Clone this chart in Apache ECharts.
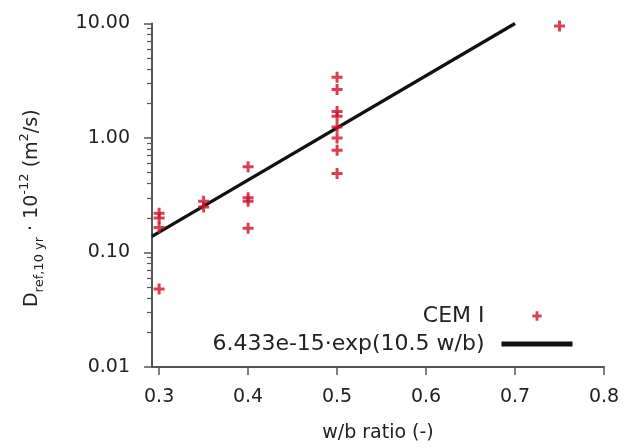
<!DOCTYPE html>
<html>
<head>
<meta charset="utf-8">
<script src="https://cdn.jsdelivr.net/npm/echarts@6/dist/echarts.min.js"></script>
<style>
  html, body { margin: 0; padding: 0; background: #fff; }
  #chart { width: 627px; height: 448px; }
</style>
</head>
<body>
<div id="chart"></div>
<script>
// measured points (w/b ratio vs D_ref,10yr in 1e-12 m2/s)
const wbRatio = [0.3, 0.3, 0.3, 0.3, 0.35, 0.35, 0.4, 0.4, 0.4, 0.4,
  0.5, 0.5, 0.5, 0.5, 0.5, 0.5, 0.5, 0.5, 0.75];
const dRef = [0.22, 0.20, 0.165, 0.048, 0.28, 0.25, 0.56, 0.30, 0.28, 0.163,
  3.4, 2.65, 1.7, 1.55, 1.25, 1.0, 0.78, 0.49, 9.5];
// fitted line end points
const fitX = [0.292, 0.7];
const fitY = [0.138, 10.0];
const xTicks = [0.3, 0.4, 0.5, 0.6, 0.7, 0.8];
const yMajor = [0.01, 0.1, 1, 10];
const yMinor = [0.02, 0.03, 0.04, 0.05, 0.06, 0.07, 0.08, 0.09,
  0.2, 0.3, 0.4, 0.5, 0.6, 0.7, 0.8, 0.9,
  2, 3, 4, 5, 6, 7, 8, 9];

const font = "DejaVu Sans";
const txt = "#222";
const axisCol = "#555";
const red = "#cf1228";
const plus = "path://M4,0H7V4H11V7H7V11H4V7H0V4H4Z";
// same plus, padded so the legend draws it smaller
const plusIcon = "path://M0,0L0,0M15,15L15,15M6,2.5H9V6H12.5V9H9V12.5H6V9H2.5V6H6Z";

const chart = echarts.init(document.getElementById("chart"));

const option = {
  animation: false,
  textStyle: { fontFamily: font },
  grid: { left: 152, right: 23, top: 23.5, bottom: 79 },
  legend: {
    orient: "vertical",
    right: 47,
    top: 300,
    align: "right",
    itemWidth: 71,
    itemHeight: 14,
    itemGap: 6,
    textStyle: {
      fontFamily: font,
      fontSize: 22,
      color: txt,
      padding: [0, 12, 0, 0],
    },
    data: [
      { name: "CEM I", icon: plusIcon },
      { name: "6.433e-15·exp(10.5 w/b)", itemStyle: { opacity: 0 }, lineStyle: { width: 5 } },
    ],
  },
  xAxis: {
    type: "value",
    min: 0.292,
    max: 0.8,
    name: "w/b ratio (-)",
    nameLocation: "middle",
    nameGap: 57,
    nameTextStyle: { fontFamily: font, fontSize: 19, color: txt },
    splitLine: { show: false },
    axisLine: { lineStyle: { color: axisCol, width: 2 } },
    axisTick: { customValues: xTicks, length: 8, lineStyle: { color: axisCol, width: 1.5 } },
    axisLabel: {
      customValues: xTicks,
      margin: 21,
      fontSize: 19,
      color: txt,
      formatter: (v) => v.toFixed(1),
    },
  },
  yAxis: [
    {
      type: "log",
      logBase: 10,
      min: 0.01,
      max: 10,
      name: "{n|D}{sub|ref,10 yr}{n| · 10}{sup|-12}{n| (m}{sup|2}{n|/s)}",
      nameLocation: "middle",
      nameGap: 106,
      nameRotate: 90,
      nameTextStyle: {
        padding: [0, 26, 0, 0],
        rich: {
          n: { fontFamily: font, fontSize: 19, color: txt, lineHeight: 28, verticalAlign: "middle" },
          sub: { fontFamily: font, fontSize: 13, color: txt, lineHeight: 28, verticalAlign: "bottom" },
          sup: { fontFamily: font, fontSize: 13, color: txt, lineHeight: 28, verticalAlign: "top" },
        },
      },
      splitLine: { show: false },
      axisLine: { show: true, lineStyle: { color: axisCol, width: 2 } },
      axisTick: { customValues: yMajor, length: 8, lineStyle: { color: axisCol, width: 1.5 } },
      axisLabel: {
        customValues: yMajor,
        margin: 22,
        fontSize: 19,
        color: txt,
        formatter: (v) => Number(v).toFixed(2),
      },
    },
    {
      type: "log",
      logBase: 10,
      min: 0.01,
      max: 10,
      position: "left",
      splitLine: { show: false },
      axisLine: { show: false },
      axisLabel: { show: false },
      axisTick: { show: true, customValues: yMinor, length: 5, lineStyle: { color: axisCol, width: 1.2 } },
    },
  ],
  series: [
    {
      name: "CEM I",
      type: "scatter",
      symbol: plus,
      symbolSize: 11,
      itemStyle: { color: red },
      data: wbRatio.map((x, i) => [x, dRef[i]]),
      z: 3,
    },
    {
      name: "6.433e-15·exp(10.5 w/b)",
      type: "line",
      symbol: "none",
      lineStyle: { color: "#111", width: 3.2 },
      itemStyle: { color: "#111" },
      data: fitX.map((x, i) => [x, fitY[i]]),
      z: 2,
    },
  ],
};

chart.setOption(option);
</script>
</body>
</html>
